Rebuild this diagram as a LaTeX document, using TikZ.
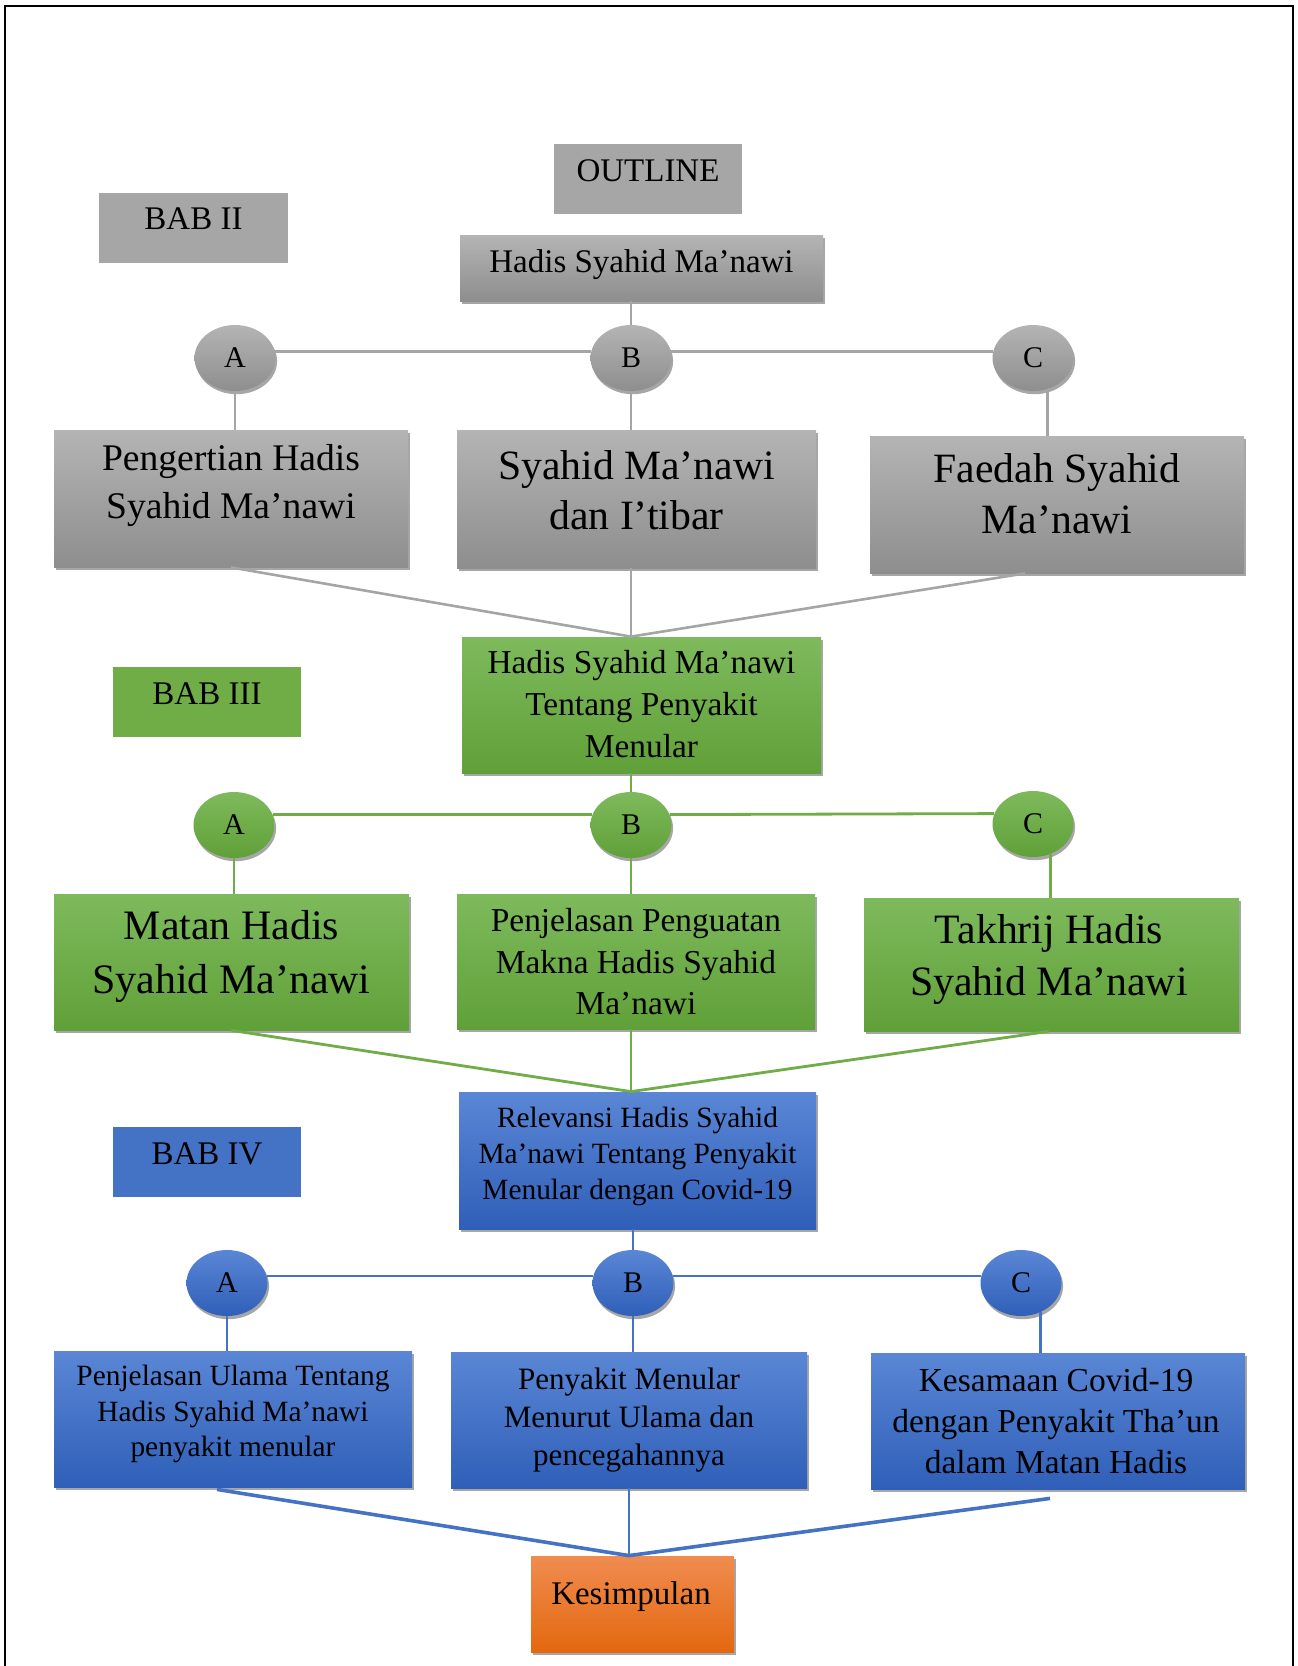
\documentclass[tikz,border=0pt]{standalone}
\usepackage{fontspec}
\setmainfont{Liberation Serif}
\usetikzlibrary{shapes.geometric,shadows,calc}
\definecolor{grayFlat}{HTML}{A6A6A6}
\definecolor{grayT}{HTML}{B4B4B4}
\definecolor{grayB}{HTML}{8E8E8E}
\definecolor{grayLn}{HTML}{A5A5A5}
\definecolor{greenFlat}{HTML}{70AD47}
\definecolor{greenT}{HTML}{7EBA5C}
\definecolor{greenB}{HTML}{60A038}
\definecolor{greenLn}{HTML}{70AD47}
\definecolor{blueFlat}{HTML}{4472C4}
\definecolor{blueT}{HTML}{5A86D5}
\definecolor{blueB}{HTML}{2F5FB8}
\definecolor{blueLn}{HTML}{4472C4}
\definecolor{orT}{HTML}{F08C50}
\definecolor{orB}{HTML}{E3680F}
\begin{document}
\begin{tikzpicture}[x=0.5pt,y=-0.5pt,
  shad/.style={drop shadow={shadow xshift=0.8pt,shadow yshift=-1.6pt,opacity=0.35,fill=black}},
  flatbox/.style={rectangle,inner sep=0pt,minimum width=94pt,minimum height=35pt},
  bx/.style={rectangle,inner sep=0pt,shad},
  grad/.style 2 args={top color=#1,bottom color=#2},
  circ/.style={ellipse,inner sep=0pt,minimum width=40.5pt,minimum height=33pt,font=\fontsize{15}{18}\selectfont,shad},
  txt/.style={align=center,inner sep=0pt,text=black},
  lnGray/.style={draw=grayLn,line width=1.3pt},
  lnGreen/.style={draw=greenLn,line width=1.4pt},
  lnBlue/.style={draw=blueLn,line width=1.4pt},
  lnBlueT/.style={draw=blueLn,line width=1.8pt}]
\useasboundingbox (0,0) rectangle (1297,1666);
% frame
\draw[line width=1pt] (5,1666) -- (5,6) -- (1293,6) -- (1293,1666);

% ---------- BAB II ----------
\node[flatbox,fill=grayFlat] (outline) at (648,179) {};
\node[txt,font=\fontsize{16.5}{20}\selectfont] (tOut) at (648,171) {OUTLINE};
\node[flatbox,fill=grayFlat,minimum width=94.5pt] (bab2) at (193.5,228) {};
\node[txt,font=\fontsize{16.5}{20}\selectfont] (tBab2) at (193.5,219) {BAB II};
\node[bx,grad={grayT}{grayB},minimum width=181.5pt,minimum height=33pt] (hadis) at (641.5,268) {};
\node[txt,font=\fontsize{16.5}{20}\selectfont] (tHadis) at (641.5,265) {Hadis Syahid Ma’nawi};

\node[circ,grad={grayT}{grayB}] (c1A) at (235,358) {A};
\node[circ,grad={grayT}{grayB}] (c1B) at (631,358) {B};
\node[circ,grad={grayT}{grayB}] (c1C) at (1033,358) {C};

\node[bx,grad={grayT}{grayB},minimum width=177pt,minimum height=68.5pt] (b1A) at (231,498.5) {};
\node[txt,font=\fontsize{18.8}{24}\selectfont] (tb1A) at (231,486) {Pengertian Hadis\\Syahid Ma’nawi};
\node[bx,grad={grayT}{grayB},minimum width=179.5pt,minimum height=69pt] (b1B) at (636.5,499) {};
\node[txt,font=\fontsize{20.85}{25}\selectfont] (tb1B) at (636.5,490) {Syahid Ma’nawi\\dan I’tibar};
\node[bx,grad={grayT}{grayB},minimum width=187pt,minimum height=68.5pt] (b1C) at (1057,504.5) {};
\node[txt,font=\fontsize{20.85}{25.5}\selectfont] (tb1C) at (1057,494) {Faedah Syahid\\Ma’nawi};

% ---------- BAB III ----------
\node[bx,grad={greenT}{greenB},minimum width=179.5pt,minimum height=68pt] (g) at (641.5,705) {};
\node[txt,font=\fontsize{16.7}{21}\selectfont] (tG) at (641.5,704.5) {Hadis Syahid Ma’nawi\\Tentang Penyakit\\Menular};
\node[flatbox,fill=greenFlat] (bab3) at (207,702) {};
\node[txt,font=\fontsize{16.5}{20}\selectfont] (tBab3) at (207,694) {BAB III};

\node[circ,grad={greenT}{greenB}] (c2A) at (234,825) {A};
\node[circ,grad={greenT}{greenB}] (c2B) at (631,825) {B};
\node[circ,grad={greenT}{greenB}] (c2C) at (1033,824) {C};

\node[bx,grad={greenT}{greenB},minimum width=177.5pt,minimum height=68pt] (b2A) at (231.5,962) {};
\node[txt,font=\fontsize{20.95}{27}\selectfont] (tb2A) at (231.5,956) {Matan Hadis\\Syahid Ma’nawi};
\node[bx,grad={greenT}{greenB},minimum width=179pt,minimum height=67.5pt] (b2B) at (636,961.5) {};
\node[txt,font=\fontsize{16.7}{20.75}\selectfont] (tb2B) at (636,962) {Penjelasan Penguatan\\Makna Hadis Syahid\\Ma’nawi};
\node[bx,grad={greenT}{greenB},minimum width=187.5pt,minimum height=66.5pt] (b2C) at (1051.5,964.5) {};
\node[txt,font=\fontsize{20.9}{26}\selectfont] (tb2C) at (1049,959) {Takhrij Hadis\\Syahid Ma’nawi};

% ---------- BAB IV ----------
\node[bx,grad={blueT}{blueB},minimum width=178.5pt,minimum height=68.5pt] (r) at (637.5,1160.5) {};
\node[txt,font=\fontsize{14.7}{18}\selectfont] (tR) at (637.5,1156) {Relevansi Hadis Syahid\\Ma’nawi Tentang Penyakit\\Menular dengan Covid-19};
\node[flatbox,fill=blueFlat] (bab4) at (207,1162) {};
\node[txt,font=\fontsize{16.5}{20}\selectfont] (tBab4) at (207,1154) {BAB IV};

\node[circ,grad={blueT}{blueB}] (c3A) at (227,1283) {A};
\node[circ,grad={blueT}{blueB}] (c3B) at (633,1283) {B};
\node[circ,grad={blueT}{blueB}] (c3C) at (1021,1283) {C};

\node[bx,grad={blueT}{blueB},minimum width=179pt,minimum height=68pt] (b3A) at (233,1419) {};
\node[txt,font=\fontsize{14.7}{17.75}\selectfont] (tb3A) at (233,1414) {Penjelasan Ulama Tentang\\Hadis Syahid Ma’nawi\\penyakit menular};
\node[bx,grad={blueT}{blueB},minimum width=178pt,minimum height=68pt] (b3B) at (629,1420) {};
\node[txt,font=\fontsize{15.55}{19}\selectfont] (tb3B) at (629,1420) {Penyakit Menular\\Menurut Ulama dan\\pencegahannya};
\node[bx,grad={blueT}{blueB},minimum width=187pt,minimum height=68pt] (b3C) at (1058,1421) {};
\node[txt,font=\fontsize{16.75}{20.5}\selectfont] (tb3C) at (1056,1421.5) {Kesamaan Covid-19\\dengan Penyakit Tha’un\\dalam Matan Hadis};

\node[bx,grad={orT}{orB},minimum width=101.5pt,minimum height=48pt] (kes) at (632.5,1604) {};
\node[txt,font=\fontsize{16.5}{20}\selectfont] (tKes) at (631,1597) {Kesimpulan};

% ---------- connectors row 1 ----------
\draw[lnGray] (hadis.south -| c1B) -- (c1B.north);
\draw[lnGray] (c1A.9) -- (c1B.171);
\draw[lnGray] (c1B.9) -- (c1C.171);
\draw[lnGray] (c1A.south) -- (c1A.south |- b1A.north);
\draw[lnGray] (c1B.south) -- (c1B.south |- b1B.north);
\coordinate (k1C) at (c1C.-65);
\draw[lnGray] (k1C) -- (k1C |- b1C.north);
\coordinate (m1) at (c1B |- g.north);
\coordinate (r1) at ($(b1C.south)+(-32,0)$);
\draw[lnGray] (b1A.south) -- (m1);
\draw[lnGray] (m1 |- b1B.south) -- (m1);
\draw[lnGray] (r1) -- (m1);

% ---------- connectors row 2 ----------
\draw[lnGreen] (g.south -| c2B) -- (c2B.north);
\draw[lnGreen] (c2A.15) -- (c2B.165);
\draw[lnGreen] (c2B.15) -- (c2C.165);
\draw[lnGreen] (c2A.south) -- (c2A.south |- b2A.north);
\draw[lnGreen] (c2B.south) -- (c2B.south |- b2B.north);
\coordinate (k2C) at (c2C.-60);
\draw[lnGreen] (k2C) -- (k2C |- b2C.north);
\coordinate (m2) at (c2B |- r.north);
\draw[lnGreen] (b2A.south) -- (m2);
\draw[lnGreen] (m2 |- b2B.south) -- (m2);
\draw[lnGreen] ($(b2C.south)+(-3,0)$) -- (m2);

% ---------- connectors row 3 ----------
\draw[lnBlue] (r.south -| c3B) -- (c3B.north);
\draw[lnBlue] (c3A.10) -- (c3B.170);
\draw[lnBlue] (c3B.10) -- (c3C.170);
\draw[lnBlue] (c3A.south) -- (c3A.south |- b3A.north);
\draw[lnBlue] (c3B.south) -- (c3B.south |- b3B.north);
\coordinate (k3C) at (c3C.-56);
\draw[lnBlue] (k3C) -- (k3C |- b3C.north);
\coordinate (m3) at (kes.north -| b3B.south);
\coordinate (l3) at ($(b3A.south)+(-16,2)$);
\coordinate (q3) at ($(b3C.south)+(-8,9)$);
\draw[lnBlueT] (l3) -- (m3);
\draw[lnBlue] (b3B.south) -- (m3);
\draw[lnBlueT] (q3) -- (m3);
\end{tikzpicture}
\end{document}
